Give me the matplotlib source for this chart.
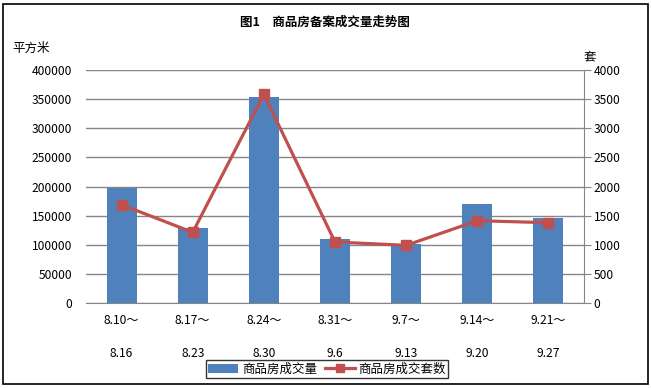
import matplotlib
matplotlib.use("Agg")
import matplotlib.pyplot as plt
from matplotlib.patches import Rectangle

plt.rcParams['font.family'] = ['Noto Sans CJK SC', 'DejaVu Sans']

categories = ["8.10～\n8.16", "8.17～\n8.23", "8.24～\n8.30", "8.31～\n9.6",
              "9.7～\n9.13", "9.14～\n9.20", "9.21～\n9.27"]
area = [197700, 129100, 353700, 110200, 101700, 170200, 146300]
units = [1690, 1217, 3583, 1051, 994, 1416, 1382]
left_ticks = [0, 50000, 100000, 150000, 200000, 250000, 300000, 350000, 400000]
right_ticks = [0, 500, 1000, 1500, 2000, 2500, 3000, 3500, 4000]

title = "图1　商品房备案成交量走势图"
bar_label = "商品房成交量"
line_label = "商品房成交套数"

bar_color = "#4F81BD"
line_color = "#C0504D"
grid_color = "#868686"

fig = plt.figure(figsize=(6.51, 3.88), dpi=100)
fig.patches.append(Rectangle((3/651, 4/388), 645/651, 380/388, transform=fig.transFigure,
                             fill=False, edgecolor="black", linewidth=1.2))

ax = fig.add_axes([86/651, 1 - 303.3/388, 498/651, 233.3/388])
x = list(range(len(categories)))
bars = ax.bar(x, area, width=0.42, color=bar_color, zorder=2, label=bar_label)
ax.set_xlim(-0.5, len(categories) - 0.5)
ax.set_ylim(0, 400000)
ax.set_yticks(left_ticks)
ax.set_yticklabels([str(v) for v in left_ticks], fontsize=8.7)
ax.yaxis.grid(True, color=grid_color, linewidth=1, zorder=0)
ax.set_axisbelow(True)
for s in ["top", "right", "left"]:
    ax.spines[s].set_visible(False)
ax.spines["bottom"].set_color(grid_color)
ax.tick_params(axis="y", length=0, pad=10)
ax.tick_params(axis="x", length=0, pad=8)
ax.set_xticks(x)
ax.set_xticklabels(categories, fontsize=8.7, linespacing=3.0)

ax2 = ax.twinx()
line, = ax2.plot(x, units, color=line_color, linewidth=2.3, marker="s",
                 markersize=7.5, markerfacecolor=line_color, markeredgecolor=line_color,
                 zorder=3, label=line_label)
ax2.set_ylim(0, 4000)
ax2.set_yticks(right_ticks)
ax2.set_yticklabels([str(v) for v in right_ticks], fontsize=8.7)
for s in ["top", "left", "bottom"]:
    ax2.spines[s].set_visible(False)
ax2.spines["right"].set_color(grid_color)
ax2.tick_params(axis="y", length=5, color=grid_color, pad=2)

fig.text(325/651, 1 - 22/388, title, ha="center", va="center", fontsize=9, fontweight="bold")
fig.text(12/651, 1 - 48/388, "平方米", ha="left", va="center", fontsize=9)
fig.text(590/651, 1 - 57/388, "套", ha="center", va="center", fontsize=9)

leg = fig.legend([bars, line], [bar_label, line_label], loc="center",
                 bbox_to_anchor=(327/651, 1 - 369/388), ncol=2, fontsize=9,
                 frameon=True, fancybox=False, edgecolor="black", borderpad=0.2,
                 handlelength=2.4, handletextpad=0.3, columnspacing=0.6, markerscale=0.7)
leg.get_frame().set_linewidth(1.0)

fig.savefig("out.png", dpi=100)
